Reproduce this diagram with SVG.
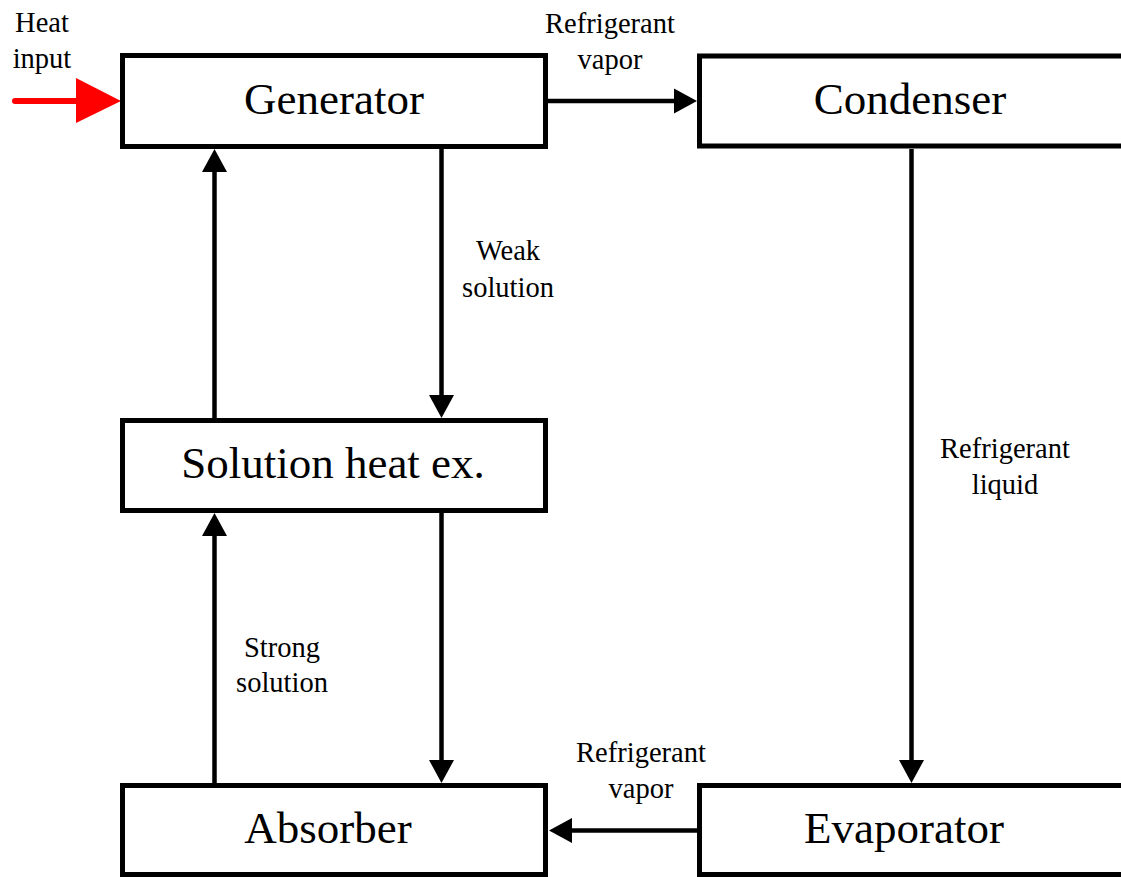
<svg xmlns="http://www.w3.org/2000/svg" width="1121" height="877" viewBox="0 0 1121 877" font-family="'Liberation Serif', 'Times New Roman', serif">
<style>
.box{fill:#fff;stroke:#000;stroke-width:5}
.big{font-size:45px;fill:#000;text-anchor:middle}
.lbl{font-size:28.5px;fill:#000;text-anchor:middle}
.conn{stroke:#000;stroke-width:4.5;fill:none}
</style>
<defs>
<marker id="ah" markerUnits="userSpaceOnUse" markerWidth="24" markerHeight="26" refX="0" refY="12.5" orient="auto" overflow="visible">
<path d="M0,0 L23,12.5 L0,25 Z" fill="#000"/>
</marker>
</defs>
<rect width="1121" height="877" fill="#fff"/>
<g id="connectors">
<line class="conn" x1="548" y1="101" x2="674" y2="101" marker-end="url(#ah)"/>
<line class="conn" x1="697" y1="830.5" x2="572" y2="830.5" marker-end="url(#ah)"/>
<line class="conn" x1="214.5" y1="418" x2="214.5" y2="172" marker-end="url(#ah)"/>
<line class="conn" x1="441.5" y1="149" x2="441.5" y2="395" marker-end="url(#ah)"/>
<line class="conn" x1="214.5" y1="783" x2="214.5" y2="536" marker-end="url(#ah)"/>
<line class="conn" x1="441.5" y1="513" x2="441.5" y2="760" marker-end="url(#ah)"/>
<line class="conn" x1="911.5" y1="149" x2="911.5" y2="760" marker-end="url(#ah)"/>
<line x1="15" y1="101" x2="80" y2="101" stroke="#ff0000" stroke-width="6" stroke-linecap="round"/>
<path d="M76,78 L121,101 L76,123 Z" fill="#ff0000"/>
</g>
<g id="labels" font-family="'Liberation Serif', serif">
<text class="lbl" x="42" y="32">Heat</text>
<text class="lbl" x="42" y="68">input</text>
<text class="lbl" x="610" y="33">Refrigerant</text>
<text class="lbl" x="610" y="69">vapor</text>
<text class="lbl" x="508" y="260">Weak</text>
<text class="lbl" x="508" y="297">solution</text>
<text class="lbl" x="1005" y="458">Refrigerant</text>
<text class="lbl" x="1005" y="494">liquid</text>
<text class="lbl" x="282" y="657">Strong</text>
<text class="lbl" x="282" y="692">solution</text>
<text class="lbl" x="641" y="762">Refrigerant</text>
<text class="lbl" x="641" y="798">vapor</text>
</g>
<g id="generator" font-family="'Liberation Serif', serif">
<rect class="box" x="122.5" y="55.5" width="423" height="91"/>
<text class="big" x="334" y="114">Generator</text>
</g>
<g id="condenser" font-family="'Liberation Serif', serif">
<rect class="box" x="699.5" y="56" width="500" height="90"/>
<text class="big" x="910" y="114">Condenser</text>
</g>
<g id="solution-heat-ex" font-family="'Liberation Serif', serif">
<rect class="box" x="122.5" y="420.5" width="423" height="90"/>
<text class="big" x="333" y="478">Solution heat ex.</text>
</g>
<g id="absorber" font-family="'Liberation Serif', serif">
<rect class="box" x="122.5" y="785.5" width="423" height="89"/>
<text class="big" x="328" y="843">Absorber</text>
</g>
<g id="evaporator" font-family="'Liberation Serif', serif">
<rect class="box" x="699.5" y="785.5" width="500" height="89"/>
<text class="big" x="904" y="843">Evaporator</text>
</g>
</svg>
